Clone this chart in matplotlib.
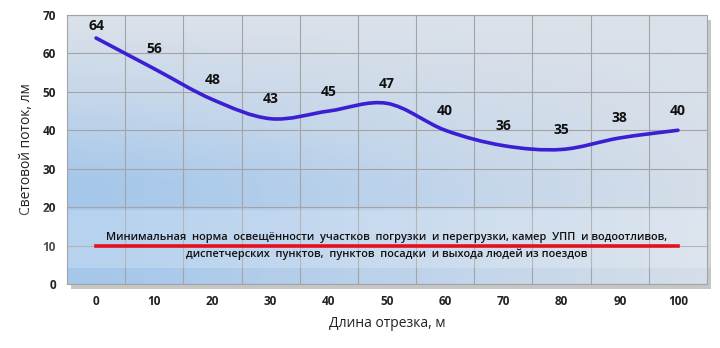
import numpy as np
import matplotlib.pyplot as plt
from matplotlib.path import Path
from matplotlib.patches import PathPatch, Rectangle
from matplotlib.colors import LinearSegmentedColormap

# Data
lengths = ["0", "10", "20", "30", "40", "50", "60", "70", "80", "90", "100"]
flux = [64, 56, 48, 43, 45, 47, 40, 36, 35, 38, 40]
norm_level = 10
norm_text = ("Минимальная  норма  освещённости  участков  погрузки  и перегрузки, камер  УПП  и водоотливов,\n"
             "диспетчерских  пунктов,  пунктов  посадки  и выхода людей из поездов")
label_offsets = [9, 14, 14, 14, 14, 14, 14, 14, 14, 14, 14]

plt.rcParams['font.family'] = ['Open Sans', 'DejaVu Sans']

fig = plt.figure(figsize=(7.2, 3.48), dpi=100, facecolor='white')
ax = fig.add_axes([0.093, 0.184, 0.889, 0.773], zorder=2)

x = np.arange(len(lengths))
ax.set_xlim(-0.5, len(lengths) - 0.5)

# shadow behind the plot area
fig.patches.append(Rectangle((0.093 + 0.006, 0.184 - 0.014), 0.889, 0.773,
                             transform=fig.transFigure, facecolor='#a0a0a0',
                             alpha=0.6, edgecolor='none', zorder=-1))

# gradient background of the plot area: blue on the left, grey on the top/right
gy, gx = np.mgrid[0:1:200j, 0:1:300j]
field = np.clip(gy * 1.6, 0, 1) * (1 - 0.85 * gx ** 1.2)
cmap = LinearSegmentedColormap.from_list('bg', ['#dce2e9', '#c4d6ea', '#a5c7ea'])
ax.imshow(field, cmap=cmap, extent=(-0.5, len(lengths) - 0.5, 0, 70),
          aspect='auto', zorder=0, vmin=0, vmax=1, origin='upper')
ax.set_ylim(0, 70)

# grid
for b in np.arange(0.5, len(lengths) - 0.5):
    ax.axvline(b, color='#a4a4a4', lw=0.8, zorder=1)
ax.set_yticks(np.arange(0, 71, 10))
ax.grid(axis='y', color='#a4a4a4', lw=0.8, zorder=1)

# faint white watermark band across the lower part of the figure
ax.add_artist(Rectangle((0, 1 - 268 / 348), 1, 58 / 348, transform=fig.transFigure,
                        facecolor='white', alpha=0.2, edgecolor='none', zorder=2,
                        clip_on=False))

# smoothed line (Excel-style Bezier through the points)
pts = np.column_stack([x, flux]).astype(float)
verts = [pts[0]]
codes = [Path.MOVETO]
for i in range(len(pts) - 1):
    p0 = pts[max(i - 1, 0)]
    p1 = pts[i]
    p2 = pts[i + 1]
    p3 = pts[min(i + 2, len(pts) - 1)]
    verts += [p1 + (p2 - p0) / 6, p2 - (p3 - p1) / 6, p2]
    codes += [Path.CURVE4] * 3
ax.add_patch(PathPatch(Path(verts, codes), facecolor='none', edgecolor='#3a1fd4',
                       lw=2.6, zorder=4, capstyle='round'))

for xi, v, off in zip(x, flux, label_offsets):
    ax.annotate(str(v), (xi, v), xytext=(0, off), textcoords='offset points',
                ha='center', va='center', fontsize=10, fontweight='bold',
                color='#111111', zorder=5)

# norm line
ax.plot([x[0], x[-1]], [norm_level, norm_level], color='#e5101c', lw=2.6, zorder=4)
ax.text(x[len(x) // 2], norm_level, norm_text, ha='center', va='center',
        fontsize=7.9, fontweight='semibold', color='#111111', linespacing=1.65, zorder=5)

ax.set_xticks(x)
ax.set_xticklabels(lengths)
ax.tick_params(length=0, pad=8, labelsize=8.5)
for lab in ax.get_xticklabels() + ax.get_yticklabels():
    lab.set_fontweight('bold')
    lab.set_color('#222222')
ax.set_xlabel("Длина отрезка, м", fontsize=10, color='#222222', labelpad=6)
ax.set_ylabel("Световой поток, лм", fontsize=10, color='#222222', labelpad=6)
for s in ax.spines.values():
    s.set_color('#a4a4a4')
    s.set_linewidth(0.8)

fig.savefig('out.png', dpi=100)
